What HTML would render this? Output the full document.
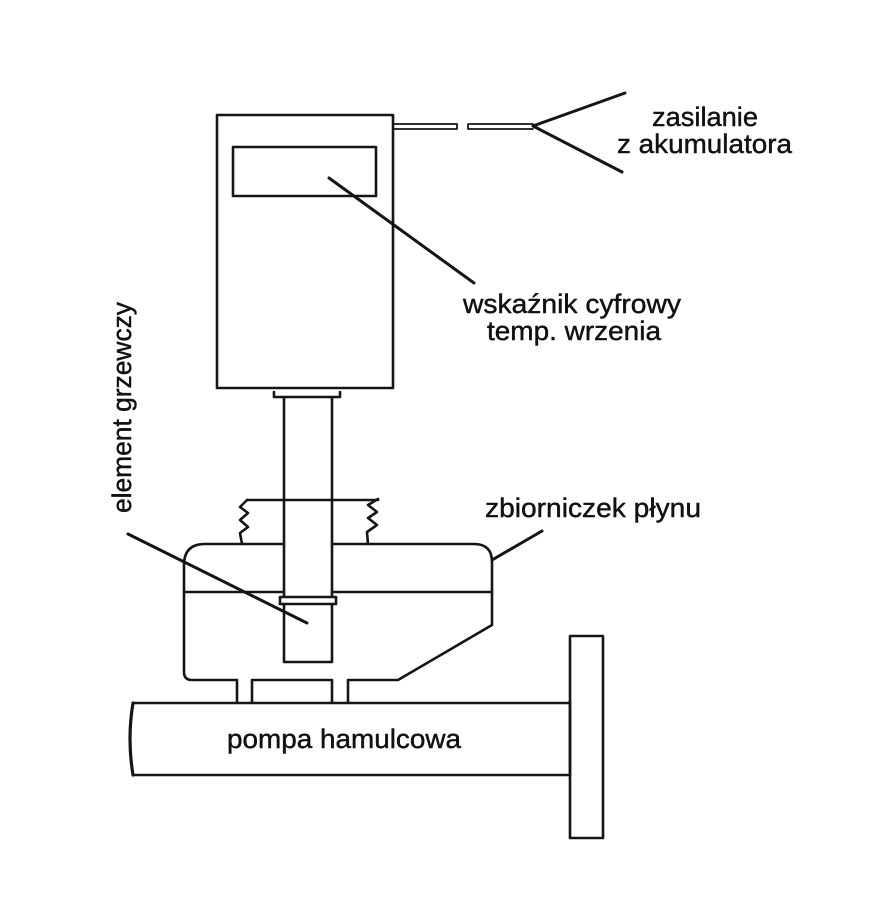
<!DOCTYPE html>
<html>
<head>
<meta charset="utf-8">
<style>
  html, body { margin:0; padding:0; background:#fff; }
  svg { display:block; }
  text { font-family: "Liberation Sans", "DejaVu Sans", sans-serif; font-size:27px; fill:#111; stroke:#111; stroke-width:0.45; }
</style>
</head>
<body>
<svg width="872" height="924" viewBox="0 0 872 924" xmlns="http://www.w3.org/2000/svg">
  <rect x="0" y="0" width="872" height="924" fill="#fff"/>
  <g fill="none" stroke="#151515" stroke-width="2.6" stroke-linejoin="round" stroke-linecap="round">
    <!-- main indicator box -->
    <rect x="217" y="115" width="176" height="273"/>
    <!-- display -->
    <rect x="233" y="147" width="143" height="49"/>
    <!-- wire (double line) -->
    <path d="M393,124 H457 V129 H393" stroke-width="1.8"/>
    <path d="M468,124 H533 M468,129 H533 M468,124 V129" stroke-width="1.8"/>
    <!-- fork -->
    <path d="M533,126 L625,93 M533,126 L622,172" stroke-width="3"/>
    <!-- bracket under box -->
    <path d="M274,392 V397 H340 V392"/>
    <!-- tube -->
    <path d="M284,398 V662 H332 V398"/>
    <!-- collar -->
    <rect x="280" y="597" width="56" height="7" fill="#fff"/>
    <!-- zigzag section -->
    <path d="M247,500 H378"/>
    <path d="M247,500 L240,507 L248,513 L240,520 L248,527 L240,533 L242,544"/>
    <path d="M378,499 L368,505 L377,512 L368,518 L377,525 L367,532 L368,544"/>
    <!-- tank -->
    <path d="M284,544 H205 Q184,544 184,565 V672 Q184,680 192,680 H237 V702"/>
    <path d="M332,544 H474 Q492,544 492,562 V625 L398,680 H348 V702"/>
    <path d="M252,702 V680 H332 V702"/>
    <!-- tank mid line -->
    <path d="M184,592 H284 M332,592 H492"/>
    <!-- pump body -->
    <path d="M133,703 H570 M133,775 H570 M570,701 V775"/>
    <path d="M133,703 Q127,739 133,775" stroke-width="3.2"/>
    <!-- flange -->
    <rect x="570" y="636" width="33" height="202"/>
    <!-- leader lines -->
    <path d="M329,178 L474,283" stroke-width="3"/>
    <path d="M492,560 L542,531" stroke-width="3"/>
    <path d="M128,534 L307,623" stroke-width="3"/>
  </g>
  <text x="652" y="126" textLength="106" lengthAdjust="spacingAndGlyphs">zasilanie</text>
  <text x="617" y="153" textLength="175" lengthAdjust="spacingAndGlyphs">z akumulatora</text>
  <text x="463" y="313" textLength="218" lengthAdjust="spacingAndGlyphs">wskaźnik cyfrowy</text>
  <text x="487" y="340" textLength="174" lengthAdjust="spacingAndGlyphs">temp. wrzenia</text>
  <text x="485" y="517" textLength="216" lengthAdjust="spacingAndGlyphs">zbiorniczek płynu</text>
  <text x="227" y="748" textLength="234" lengthAdjust="spacingAndGlyphs">pompa hamulcowa</text>
  <text transform="translate(131,513) rotate(-90)" x="0" y="0" textLength="211" lengthAdjust="spacingAndGlyphs">element grzewczy</text>
</svg>
</body>
</html>
